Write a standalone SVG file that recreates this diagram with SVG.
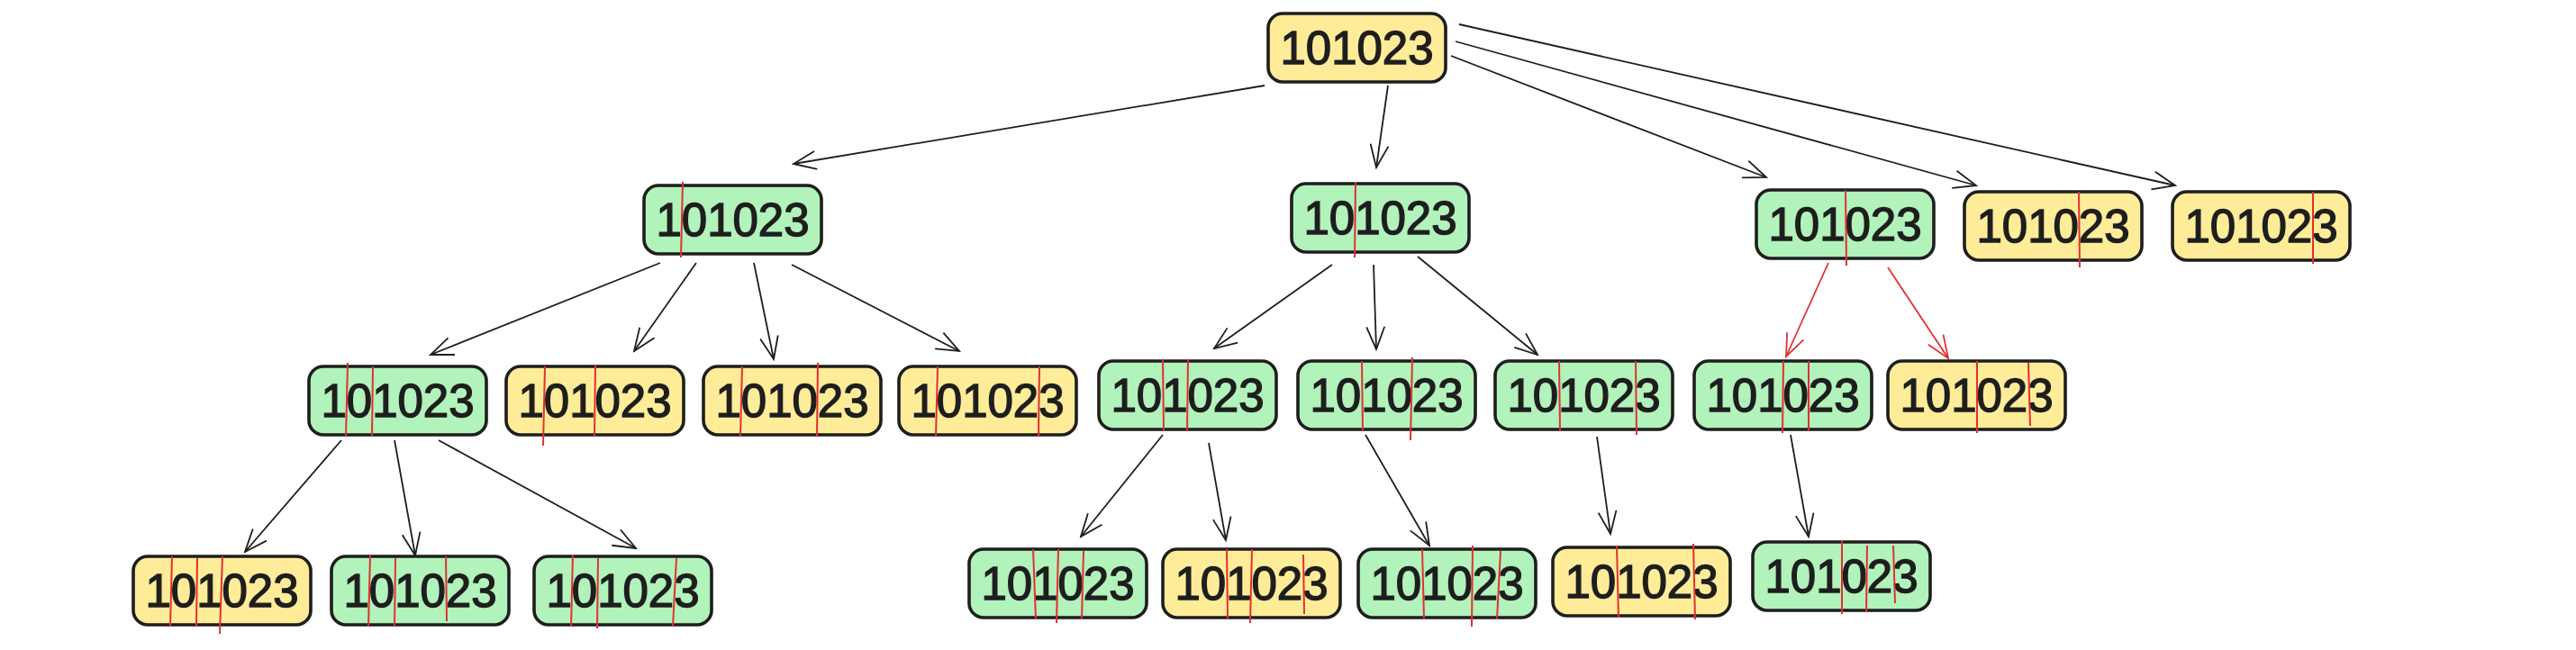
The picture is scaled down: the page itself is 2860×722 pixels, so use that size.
<svg xmlns="http://www.w3.org/2000/svg" width="2860" height="722" viewBox="0 0 2860 722">
<style>
.box{stroke:#1e1e1e;stroke-width:3.6;}
.y{fill:#ffec99;}
.g{fill:#b2f2bb;}
.t{font-family:"Liberation Sans",Arial,sans-serif;font-size:51px;fill:#1e1e1e;stroke:#1e1e1e;stroke-width:1.4;text-anchor:middle;}
.cut{stroke:#e03131;stroke-width:2;fill:none;}
.e{stroke:#1e1e1e;stroke-width:1.8;fill:none;marker-end:url(#ah);}
.er{stroke:#e03131;stroke-width:1.8;fill:none;marker-end:url(#ahr);}
</style>
<defs>
<marker id="ah" markerUnits="userSpaceOnUse" markerWidth="30" markerHeight="30" viewBox="0 0 30 30" refX="28" refY="15" orient="auto">
<path d="M3,5 L28,15 L3,25" fill="none" stroke="#1e1e1e" stroke-width="1.8"/>
</marker>
<marker id="ahr" markerUnits="userSpaceOnUse" markerWidth="30" markerHeight="30" viewBox="0 0 30 30" refX="28" refY="15" orient="auto">
<path d="M3,5 L28,15 L3,25" fill="none" stroke="#e03131" stroke-width="1.8"/>
</marker>
</defs>
<rect width="2860" height="722" fill="#ffffff"/>
<g id="connectors">
<line class="e" x1="1404" y1="95" x2="881" y2="182"/>
<line class="e" x1="1541" y1="95" x2="1528" y2="186"/>
<line class="e" x1="1611" y1="62" x2="1961" y2="197"/>
<line class="e" x1="1616" y1="46" x2="2194" y2="206"/>
<line class="e" x1="1620" y1="27" x2="2415" y2="206"/>
<line class="e" x1="733" y1="292" x2="478" y2="394"/>
<line class="e" x1="773" y1="292" x2="704" y2="390"/>
<line class="e" x1="837" y1="292" x2="859" y2="399"/>
<line class="e" x1="879" y1="294" x2="1065" y2="390"/>
<line class="e" x1="1479" y1="294" x2="1348" y2="387"/>
<line class="e" x1="1525" y1="294" x2="1528" y2="388"/>
<line class="e" x1="1574" y1="285" x2="1707" y2="394"/>
<line class="er" x1="2030" y1="292" x2="1983" y2="396"/>
<line class="er" x1="2096" y1="297" x2="2163" y2="398"/>
<line class="e" x1="379" y1="489" x2="272" y2="613"/>
<line class="e" x1="438" y1="489" x2="461" y2="617"/>
<line class="e" x1="487" y1="489" x2="706" y2="609"/>
<line class="e" x1="1291" y1="483" x2="1200" y2="596"/>
<line class="e" x1="1342" y1="492" x2="1361" y2="600"/>
<line class="e" x1="1516" y1="483" x2="1587" y2="606"/>
<line class="e" x1="1773" y1="485" x2="1788" y2="593"/>
<line class="e" x1="1988" y1="483" x2="2008" y2="596"/>
</g>
<g id="root" transform="translate(1408,15)"><rect class="box y" width="197" height="76" rx="16"/><text class="t" x="98.5" y="56">101023</text></g>
<g id="a" transform="translate(715,206)"><rect class="box g" width="197" height="76" rx="16"/><text class="t" x="98.5" y="56">101023</text><path class="cut" d="M43,-4 L41,80"/></g>
<g id="b" transform="translate(1434,204)"><rect class="box g" width="197" height="76" rx="16"/><text class="t" x="98.5" y="56">101023</text><path class="cut" d="M71,-2 L70,82"/></g>
<g id="c" transform="translate(1950,211)"><rect class="box g" width="197" height="76" rx="16"/><text class="t" x="98.5" y="56">101023</text><path class="cut" d="M99,0 L100,84"/></g>
<g id="d" transform="translate(2181,213)"><rect class="box y" width="197" height="76" rx="16"/><text class="t" x="98.5" y="56">101023</text><path class="cut" d="M127,0 L128,84"/></g>
<g id="e" transform="translate(2412,213)"><rect class="box y" width="197" height="76" rx="16"/><text class="t" x="98.5" y="56">101023</text><path class="cut" d="M156,0 L156,80"/></g>
<g id="a1" transform="translate(343,407)"><rect class="box g" width="197" height="76" rx="16"/><text class="t" x="98.5" y="56">101023</text><path class="cut" d="M43,-4 L41,78 M71,0 L70,78"/></g>
<g id="a2" transform="translate(562,407)"><rect class="box y" width="197" height="76" rx="16"/><text class="t" x="98.5" y="56">101023</text><path class="cut" d="M43,0 L41,88 M99,-2 L98,78"/></g>
<g id="a3" transform="translate(781,407)"><rect class="box y" width="197" height="76" rx="16"/><text class="t" x="98.5" y="56">101023</text><path class="cut" d="M43,0 L41,78 M127,-4 L126,78"/></g>
<g id="a4" transform="translate(998,407)"><rect class="box y" width="197" height="76" rx="16"/><text class="t" x="98.5" y="56">101023</text><path class="cut" d="M43,0 L41,78 M156,0 L155,78"/></g>
<g id="b1" transform="translate(1220,401)"><rect class="box g" width="197" height="76" rx="16"/><text class="t" x="98.5" y="56">101023</text><path class="cut" d="M71,-2 L72,78 M99,-2 L98,78"/></g>
<g id="b2" transform="translate(1441,401)"><rect class="box g" width="197" height="76" rx="16"/><text class="t" x="98.5" y="56">101023</text><path class="cut" d="M71,0 L72,78 M127,-4 L125,88"/></g>
<g id="b3" transform="translate(1660,401)"><rect class="box g" width="197" height="76" rx="16"/><text class="t" x="98.5" y="56">101023</text><path class="cut" d="M71,0 L72,78 M156,0 L157,82"/></g>
<g id="c1" transform="translate(1881,401)"><rect class="box g" width="197" height="76" rx="16"/><text class="t" x="98.5" y="56">101023</text><path class="cut" d="M99,0 L98,80 M127,0 L127,78"/></g>
<g id="c2" transform="translate(2096,401)"><rect class="box y" width="197" height="76" rx="16"/><text class="t" x="98.5" y="56">101023</text><path class="cut" d="M99,0 L99,80 M156,2 L158,72"/></g>
<g id="a1a" transform="translate(148,618)"><rect class="box y" width="197" height="76" rx="16"/><text class="t" x="98.5" y="56">101023</text><path class="cut" d="M43,0 L41,78 M71,2 L70,78 M99,0 L96,86"/></g>
<g id="a1b" transform="translate(368,618)"><rect class="box g" width="197" height="76" rx="16"/><text class="t" x="98.5" y="56">101023</text><path class="cut" d="M43,-2 L41,78 M71,2 L70,78 M127,0 L128,72"/></g>
<g id="a1c" transform="translate(593,618)"><rect class="box g" width="197" height="76" rx="16"/><text class="t" x="98.5" y="56">101023</text><path class="cut" d="M43,-2 L41,78 M71,2 L70,80 M158,2 L154,78"/></g>
<g id="b1a" transform="translate(1076,610)"><rect class="box g" width="197" height="76" rx="16"/><text class="t" x="98.5" y="56">101023</text><path class="cut" d="M71,0 L74,78 M99,0 L97,82 M127,2 L125,78"/></g>
<g id="b1b" transform="translate(1291,610)"><rect class="box y" width="197" height="76" rx="16"/><text class="t" x="98.5" y="56">101023</text><path class="cut" d="M71,0 L72,78 M99,0 L97,82 M156,6 L157,72"/></g>
<g id="b2a" transform="translate(1508,610)"><rect class="box g" width="197" height="76" rx="16"/><text class="t" x="98.5" y="56">101023</text><path class="cut" d="M71,0 L73,78 M127,-4 L126,86 M158,2 L154,78"/></g>
<g id="b3a" transform="translate(1724,608)"><rect class="box y" width="197" height="76" rx="16"/><text class="t" x="98.5" y="56">101023</text><path class="cut" d="M71,-2 L73,78 M156,-4 L158,80"/></g>
<g id="c1a" transform="translate(1946,602)"><rect class="box g" width="197" height="76" rx="16"/><text class="t" x="98.5" y="56">101023</text><path class="cut" d="M99,-2 L99,80 M127,4 L126,78 M156,4 L158,68"/></g>
</svg>
